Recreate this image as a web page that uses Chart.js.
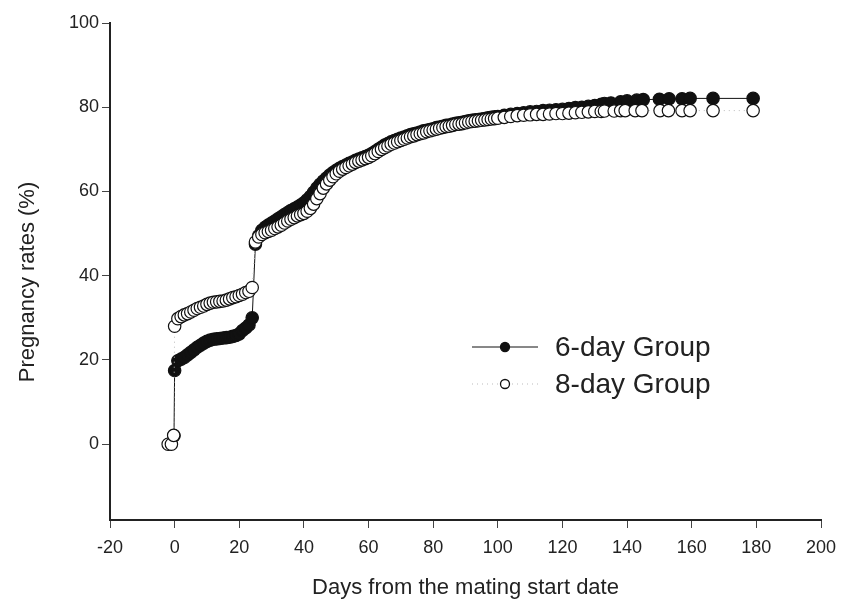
<!DOCTYPE html>
<html>
<head>
<meta charset="utf-8">
<style>
  html, body { margin: 0; padding: 0; background: #fff; }
  #wrap { width: 848px; height: 602px; position: relative; }
</style>
<script src="https://cdn.jsdelivr.net/npm/chart.js@4.4.1/dist/chart.umd.min.js"></script>
</head>
<body>
<div id="wrap"><canvas id="chart"></canvas></div>
<script>
// 6-day group (filled circles, solid line)
const days6 = [-0.2,
  0, 1, 2, 3, 4, 5, 6, 7, 8, 9, 10, 11, 12, 13, 14, 15, 16, 17, 18, 19, 20, 21, 22, 23, 24,
  25, 26, 27, 28, 29, 30, 31, 32, 33, 34, 35, 36, 37, 38, 39, 40, 41, 42, 43, 44, 45, 46, 47,
  48, 49, 50, 51, 52, 53, 54, 55, 56, 57, 58, 59, 60, 61, 62, 63, 64, 65, 66, 67, 68, 69,
  70, 71, 72, 73, 74, 75, 76, 77, 78, 79, 80, 81, 82, 83, 84, 85, 86, 87, 88, 89, 90,
  91, 92, 93, 94, 95, 96, 97, 98, 99, 100, 102, 104, 106, 108, 110,
  112, 114, 116, 118, 120, 122, 124, 126, 128, 130, 132,
  133, 135, 138, 140, 143, 145, 150, 153, 157, 159.5, 166.6, 179];
const rate6 = [2.0,
  17.5, 19.8, 20.2, 20.6, 21.2, 21.8, 22.4, 23.0, 23.5, 24.0, 24.4, 24.7, 24.9, 25.0, 25.1, 25.2, 25.3, 25.4, 25.6, 25.8, 26.2, 27.0, 27.6, 28.3, 30.0,
  47.5, 49.5, 50.8, 51.5, 52.0, 52.5, 53.0, 53.5, 54.0, 54.5, 55.0, 55.5, 55.9, 56.3, 56.8, 57.3, 58.0, 58.8, 59.8, 60.8, 61.7, 62.5, 63.2,
  63.9, 64.5, 65.0, 65.5, 65.9, 66.3, 66.7, 67.0, 67.4, 67.7, 68.0, 68.3, 68.6, 69.0, 69.5, 70.0, 70.5, 71.0, 71.4, 71.8, 72.1, 72.4,
  72.7, 72.9, 73.2, 73.5, 73.7, 73.9, 74.1, 74.4, 74.5, 74.7, 74.9, 75.2, 75.3, 75.5, 75.7, 75.8, 76.0, 76.2, 76.3, 76.4, 76.6,
  76.8, 76.9, 77.0, 77.1, 77.2, 77.3, 77.5, 77.6, 77.7, 77.8, 78.1, 78.3, 78.5, 78.7, 78.9,
  79.0, 79.2, 79.3, 79.4, 79.5, 79.7, 79.9, 80.0, 80.2, 80.4, 80.7,
  80.9, 81.0, 81.3, 81.5, 81.7, 81.8, 81.9, 82.0, 82.0, 82.1, 82.1, 82.1];

// 8-day group (open circles, dotted line)
const days8 = [-2, -1, -0.3,
  0, 1, 2, 3, 4, 5, 6, 7, 8, 9, 10, 11, 12, 13, 14, 15, 16, 17, 18, 19, 20, 21, 22, 23, 24,
  25, 26, 27, 28, 29, 30, 31, 32, 33, 34, 35, 36, 37, 38, 39, 40, 41, 42, 43, 44, 45, 46, 47,
  48, 49, 50, 51, 52, 53, 54, 55, 56, 57, 58, 59, 60, 61, 62, 63, 64, 65, 66, 67, 68, 69,
  70, 71, 72, 73, 74, 75, 76, 77, 78, 79, 80, 81, 82, 83, 84, 85, 86, 87, 88, 89, 90,
  91, 92, 93, 94, 95, 96, 97, 98, 99, 100, 102, 104, 106, 108, 110,
  112, 114, 116, 118, 120, 122, 124, 126, 128, 130, 132,
  133, 136, 138, 139.4, 142.5, 144.6, 150.2, 152.8, 157, 159.5, 166.6, 179];
const rate8 = [0, 0, 2.1,
  28.0, 29.8, 30.3, 30.7, 31.0, 31.4, 31.8, 32.2, 32.5, 32.8, 33.2, 33.5, 33.7, 33.8, 33.9, 34.0, 34.2, 34.5, 34.8, 35.0, 35.3, 35.6, 36.0, 36.3, 37.2,
  48.0, 49.2, 49.8, 50.2, 50.5, 50.8, 51.2, 51.6, 52.0, 52.5, 53.0, 53.4, 53.8, 54.2, 54.5, 54.8, 55.3, 56.0, 57.0, 58.3, 59.5, 60.8, 61.8,
  62.7, 63.5, 64.2, 64.8, 65.3, 65.7, 66.1, 66.5, 66.9, 67.2, 67.5, 67.8, 68.1, 68.5, 69.0, 69.5, 70.0, 70.4, 70.8, 71.2, 71.5, 71.8,
  72.1, 72.4, 72.7, 73.0, 73.2, 73.5, 73.7, 73.9, 74.2, 74.4, 74.6, 74.8, 75.0, 75.2, 75.4, 75.5, 75.7, 75.9, 76.0, 76.1, 76.3,
  76.5, 76.6, 76.7, 76.8, 76.9, 77.0, 77.1, 77.2, 77.3, 77.4, 77.6, 77.8, 78.0, 78.1, 78.2,
  78.3, 78.3, 78.4, 78.5, 78.5, 78.6, 78.7, 78.8, 78.9, 79.0, 79.0,
  79.1, 79.1, 79.2, 79.2, 79.2, 79.2, 79.2, 79.2, 79.2, 79.2, 79.2, 79.2];

const xTicks = [-20, 0, 20, 40, 60, 80, 100, 120, 140, 160, 180, 200];
const yTicks = [0, 20, 40, 60, 80, 100];
const legendLabels = ['6-day Group', '8-day Group'];
const xTitle = 'Days from the mating start date';
const yTitle = 'Pregnancy rates (%)';

const FONT = 'Liberation Sans, Arial, Helvetica, sans-serif';
const INK = '#222';

// legend sits inside the plot, markers are smaller than on the curves;
// the y title is drawn here too since it sits a bit below the axis centre
const overlayPlugin = {
  id: 'overlay',
  afterDatasetsDraw(chart) {
    const ctx = chart.ctx;
    const rows = [{ y: 347, filled: true }, { y: 384, filled: false }];
    ctx.save();
    rows.forEach((r, i) => {
      ctx.beginPath();
      if (r.filled) {
        ctx.strokeStyle = '#111';
        ctx.setLineDash([]);
      } else {
        ctx.strokeStyle = '#bbb';
        ctx.setLineDash([1, 4]);
      }
      ctx.lineWidth = 1;
      ctx.moveTo(472, r.y);
      ctx.lineTo(538, r.y);
      ctx.stroke();
      ctx.setLineDash([]);
      ctx.beginPath();
      ctx.arc(505, r.y, 4.5, 0, Math.PI * 2);
      ctx.fillStyle = r.filled ? '#111' : '#fff';
      ctx.fill();
      ctx.strokeStyle = '#111';
      ctx.lineWidth = 1.3;
      ctx.stroke();
      ctx.fillStyle = INK;
      ctx.font = '28px ' + FONT;
      ctx.textBaseline = 'middle';
      ctx.textAlign = 'left';
      ctx.fillText(legendLabels[i], 555, r.y + 1);
    });

    ctx.translate(28, 282);
    ctx.rotate(-Math.PI / 2);
    ctx.font = '22px ' + FONT;
    ctx.textAlign = 'center';
    ctx.textBaseline = 'middle';
    ctx.fillStyle = INK;
    ctx.fillText(yTitle, 0, 0);
    ctx.restore();
  }
};

new Chart(document.getElementById('chart'), {
  type: 'line',
  data: {
    datasets: [{
      label: legendLabels[1],
      data: days8.map((d, i) => ({ x: d, y: rate8[i] })),
      borderColor: '#bbb',
      borderWidth: 1,
      borderDash: [1, 4],
      pointRadius: 6.2,
      pointBorderWidth: 1.2,
      pointBackgroundColor: '#fff',
      pointBorderColor: '#111',
      tension: 0
    }, {
      label: legendLabels[0],
      data: days6.map((d, i) => ({ x: d, y: rate6[i] })),
      borderColor: '#111',
      borderWidth: 1,
      pointRadius: 6.2,
      pointBorderWidth: 1.2,
      pointBackgroundColor: '#111',
      pointBorderColor: '#111',
      tension: 0
    }]
  },
  options: {
    responsive: true,
    maintainAspectRatio: false,
    animation: false,
    devicePixelRatio: 1,
    layout: { padding: { top: 23, right: 27, bottom: 0, left: 0 } },
    plugins: {
      legend: { display: false },
      tooltip: { enabled: false }
    },
    scales: {
      x: {
        type: 'linear',
        min: -20,
        max: 200,
        afterBuildTicks: s => { s.ticks = xTicks.map(v => ({ value: v })); },
        afterFit: s => { s.height = 82; },
        border: { display: true, color: INK, width: 2 },
        grid: { display: true, drawOnChartArea: false, drawTicks: true, tickLength: 8, color: '#444', tickWidth: 1 },
        ticks: { color: INK, font: { family: FONT, size: 18 }, padding: 9, maxRotation: 0 },
        title: {
          display: true,
          text: xTitle,
          color: INK,
          font: { family: FONT, size: 22 },
          padding: { top: 0, bottom: 1 }
        }
      },
      y: {
        type: 'linear',
        min: -18,
        max: 100,
        afterBuildTicks: s => { s.ticks = yTicks.map(v => ({ value: v })); },
        afterFit: s => { s.width = 110; },
        border: { display: true, color: INK, width: 2 },
        grid: { display: true, drawOnChartArea: false, drawTicks: true, tickLength: 8, color: '#444', tickWidth: 1 },
        ticks: { color: INK, font: { family: FONT, size: 18 }, padding: 3 },
        title: { display: false }
      }
    }
  },
  plugins: [overlayPlugin]
});
</script>
</body>
</html>
